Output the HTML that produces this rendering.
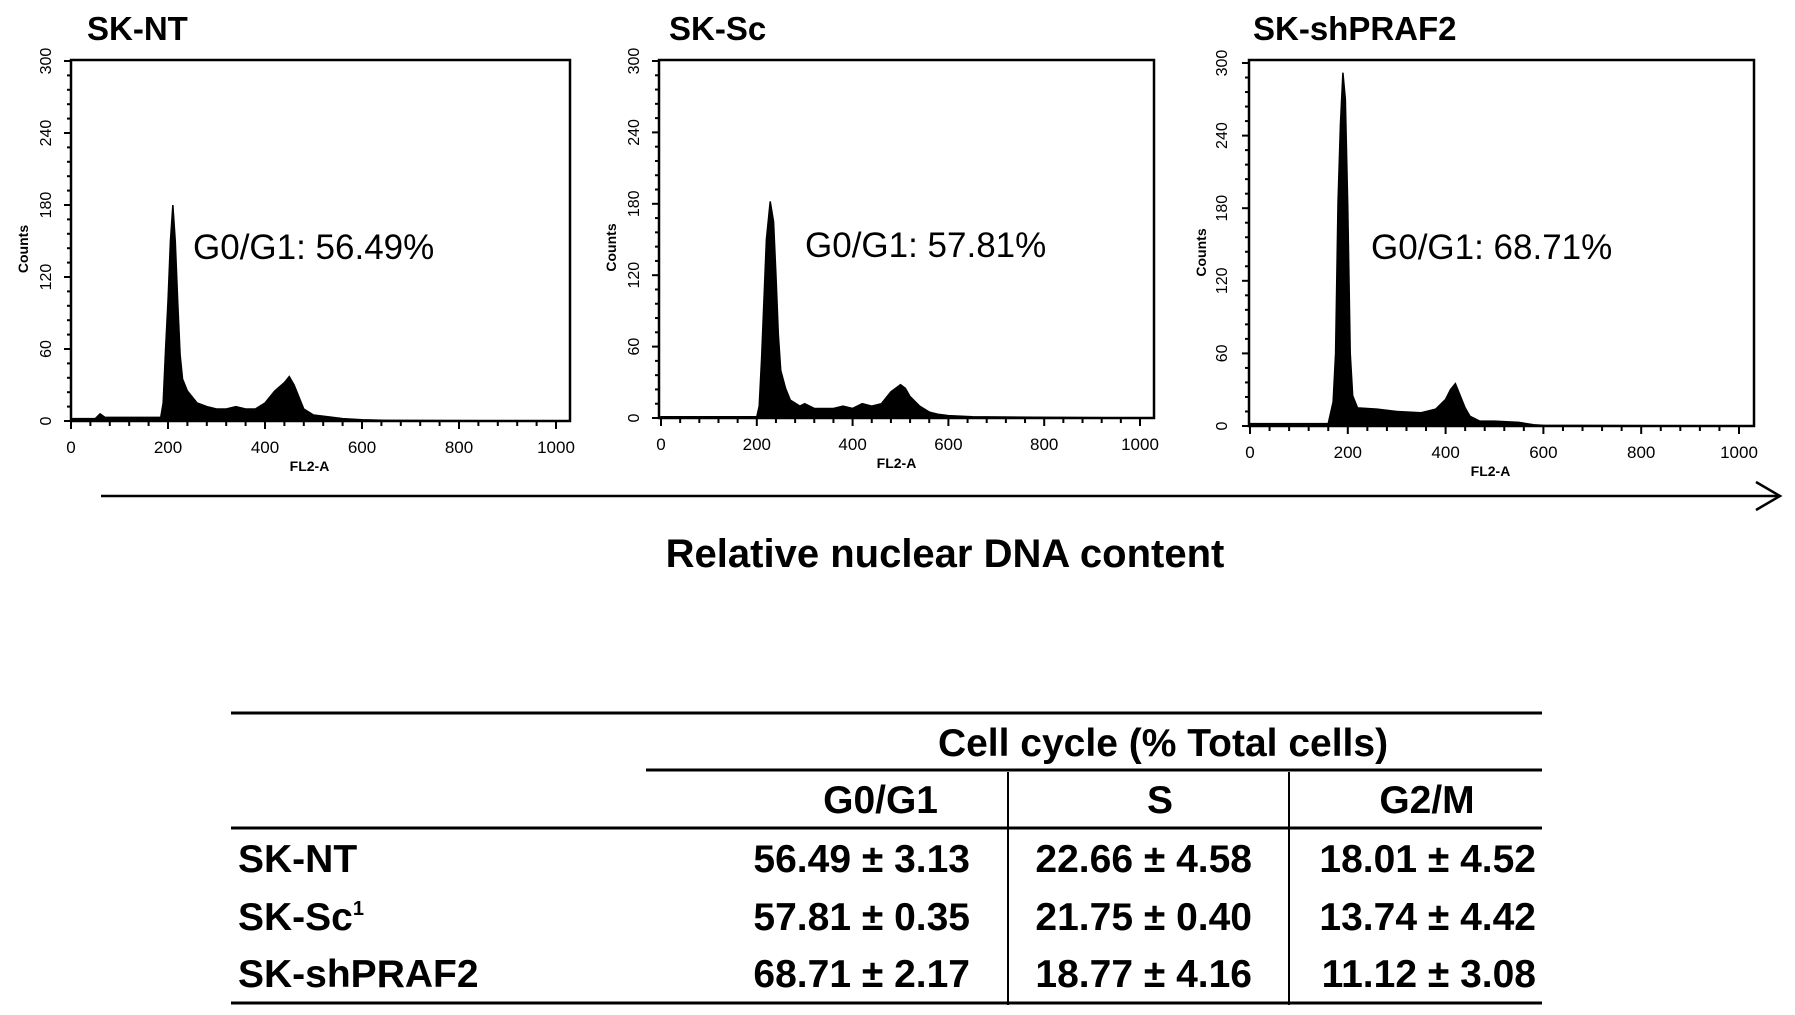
<!DOCTYPE html>
<html><head><meta charset="utf-8"><style>
html,body{margin:0;padding:0;background:#fff;}
svg{display:block;}
text{font-family:"Liberation Sans",Arial,sans-serif;fill:#000;}
</style></head><body>
<svg id="fig" width="1795" height="1015" viewBox="0 0 1795 1015">
<g id="panels"></g>
<g>
<line x1="101" y1="496" x2="1779" y2="496" stroke="#000" stroke-width="2.5"/>
<polyline points="1756,482 1780,496 1756,510" fill="none" stroke="#000" stroke-width="2.5"/>
</g>
<text x="945" y="567" font-size="40" font-weight="bold" text-anchor="middle">Relative nuclear DNA content</text>
<g>
<line x1="231" y1="713" x2="1542" y2="713" stroke="#000" stroke-width="3"/>
<text x="1163" y="756" font-size="39" font-weight="bold" text-anchor="middle">Cell cycle (% Total cells)</text>
<line x1="646" y1="770" x2="1542" y2="770" stroke="#000" stroke-width="3"/>
<line x1="1008" y1="772" x2="1008" y2="1005" stroke="#000" stroke-width="2"/>
<line x1="1289" y1="772" x2="1289" y2="1005" stroke="#000" stroke-width="2"/>
<text x="938" y="813" font-size="39" font-weight="bold" text-anchor="end">G0/G1</text>
<text x="1160" y="813" font-size="39" font-weight="bold" text-anchor="middle">S</text>
<text x="1427" y="813" font-size="39" font-weight="bold" text-anchor="middle">G2/M</text>
<line x1="231" y1="828" x2="1542" y2="828" stroke="#000" stroke-width="3"/>
<g font-size="39" font-weight="bold">
<text x="238" y="872">SK-NT</text>
<text x="970" y="872" text-anchor="end">56.49 ± 3.13</text>
<text x="1252" y="872" text-anchor="end">22.66 ± 4.58</text>
<text x="1536" y="872" text-anchor="end">18.01 ± 4.52</text>
<text x="238" y="930">SK-Sc<tspan font-size="20" dy="-15">1</tspan></text>
<text x="970" y="930" text-anchor="end">57.81 ± 0.35</text>
<text x="1252" y="930" text-anchor="end">21.75 ± 0.40</text>
<text x="1536" y="930" text-anchor="end">13.74 ± 4.42</text>
<text x="238" y="987">SK-shPRAF2</text>
<text x="970" y="987" text-anchor="end">68.71 ± 2.17</text>
<text x="1252" y="987" text-anchor="end">18.77 ± 4.16</text>
<text x="1536" y="987" text-anchor="end">11.12 ± 3.08</text>
</g>
<line x1="231" y1="1003" x2="1542" y2="1003" stroke="#000" stroke-width="3"/>
</g>
</svg>
<script>
const panelTitles = ["SK-NT", "SK-Sc", "SK-shPRAF2"];
const panelAnnotations = ["G0/G1: 56.49%", "G0/G1: 57.81%", "G0/G1: 68.71%"];
const xTickLabels = [0, 200, 400, 600, 800, 1000];
const yTickLabels = [0, 60, 120, 180, 240, 300];
const channelsNT = [0,50,60,70,185,190,195,200,205,210,215,220,225,230,240,260,280,300,320,340,360,380,400,420,440,450,460,470,480,500,540,560,600,650,1000];
const countsNT   = [2,2,6,3,3,15,60,100,150,180,150,100,55,35,25,15,12,10,10,12,10,10,15,25,32,37,30,20,10,5,3,2,1,0.5,0];
const channelsSc = [0,200,205,210,215,220,228,235,240,245,250,260,270,290,300,320,360,380,400,420,440,460,480,500,510,520,540,560,580,600,650,1000];
const countsSc   = [1,1,10,50,100,150,182,165,120,70,40,25,15,10,12,8,8,10,8,12,10,12,22,28,25,18,10,5,3,2,1,0];
const channelsSh = [0,160,170,175,180,185,190,195,200,205,210,220,260,300,350,380,400,410,420,430,440,450,470,500,550,580,600,1000];
const countsSh   = [2,2,20,60,185,250,292,270,180,60,25,15,14,12,11,14,22,30,35,25,15,8,4,4,3,1,0.5,0];
const channelSets = [channelsNT, channelsSc, channelsSh];
const countSets = [countsNT, countsSc, countsSh];

const layouts = [
 {left:71, right:570, top:60, x0:71, x1000:556, y0:421, y300:61, titleX:87, titleY:40, annX:193, annY:259, tickY:453, fl2Y:471, countsX:28, ylabX:51},
 {left:659, right:1154, top:60, x0:661, x1000:1140, y0:418, y300:61, titleX:669, titleY:40, annX:805, annY:257, tickY:450, fl2Y:468, countsX:616, ylabX:639},
 {left:1249, right:1754, top:60, x0:1250, x1000:1739, y0:426, y300:63, titleX:1253, titleY:40, annX:1371, annY:259, tickY:458, fl2Y:476, countsX:1206, ylabX:1227}
];
const NS = "http://www.w3.org/2000/svg";
function mk(tag, attrs, parent){const e=document.createElementNS(NS,tag);for(const k in attrs)e.setAttribute(k,attrs[k]);parent.appendChild(e);return e;}
const root = document.getElementById('panels');
layouts.forEach((L,i)=>{
  const g = mk('g',{},root);
  
  
  const xs = v => L.x0 + (L.x1000-L.x0)*v/1000;
  const ys = v => L.y0 - (L.y0-L.y300)*v/300;
  const ch = channelSets[i], ct = countSets[i];
  let d = 'M'+xs(ch[0])+','+ys(0);
  for(let k=0;k<ch.length;k++){ d += ' L'+xs(ch[k])+','+ys(ct[k]); }
  d += ' L'+xs(ch[ch.length-1])+','+ys(0)+' Z';
  const h = mk('path',{d:d,fill:'#000',stroke:'#000','stroke-width':1.5},g);
  
  
  const box = mk('rect',{x:L.left,y:L.top,width:L.right-L.left,height:L.y0-L.top,fill:'none',stroke:'#000','stroke-width':2.5},g);
  
  
  for(let v=0; v<=1000; v+=40){
    mk('line',{x1:xs(v),y1:L.y0,x2:xs(v),y2:L.y0+(v%200===0?8:5),stroke:'#000','stroke-width':2},g);
  }
  xTickLabels.forEach(v=>{
    const t = mk('text',{x:xs(v),y:L.tickY,'font-size':17,'text-anchor':'middle'},g);
    
    
    t.textContent = v;
  });
  const fl = mk('text',{x:xs(500)-4,y:L.fl2Y,'font-size':14,'font-weight':'bold','text-anchor':'middle'},g);
  
  
  fl.textContent = 'FL2-A';
  for(let v=0; v<=300; v+=12){
    mk('line',{x1:L.left,y1:ys(v),x2:L.left-(v%60===0?7:4),y2:ys(v),stroke:'#000','stroke-width':2},g);
  }
  yTickLabels.forEach(v=>{
    const t = mk('text',{x:L.ylabX,y:ys(v),'font-size':16,'text-anchor':'middle',transform:'rotate(-90 '+L.ylabX+' '+ys(v)+')'},g);
    
    
    t.textContent = v;
  });
  const cy = ys(150)+8;
  const c = mk('text',{x:L.countsX,y:cy,'font-size':14,'font-weight':'bold','text-anchor':'middle',transform:'rotate(-90 '+L.countsX+' '+cy+')'},g);
  
  
  c.textContent = 'Counts';
  const tt = mk('text',{x:L.titleX,y:L.titleY,'font-size':33,'font-weight':'bold'},g);
  
  
  tt.textContent = panelTitles[i];
  const an = mk('text',{x:L.annX,y:L.annY,'font-size':35},g);
  
  
  an.textContent = panelAnnotations[i];
});
</script>
</body></html>
